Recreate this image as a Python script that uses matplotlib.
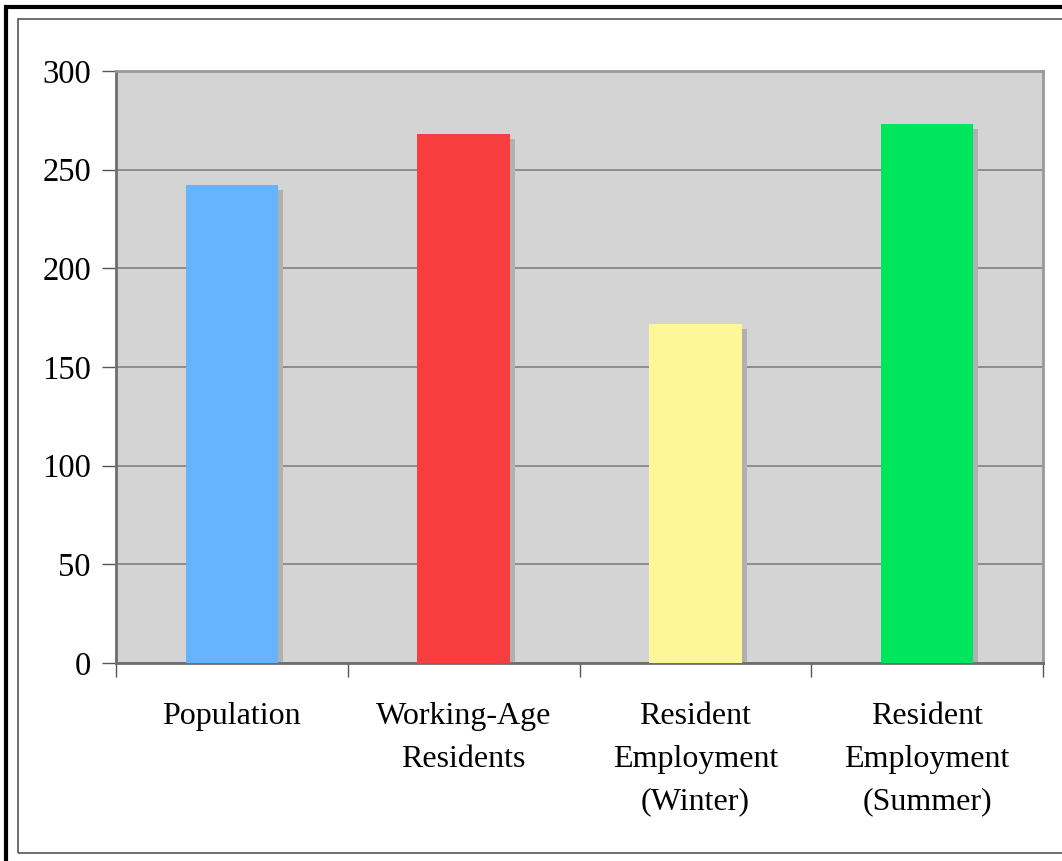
import numpy as np
import matplotlib.pyplot as plt
from matplotlib.patches import Rectangle

# Resident counts by category
categories = ['Population', 'Working-Age\nResidents', 'Resident\nEmployment\n(Winter)', 'Resident\nEmployment\n(Summer)']
values = [242, 268, 172, 273]
bar_colors = ['#66b3ff', '#f73d3d', '#fff599', '#00e65c']

W, H = 1062, 861
plt.rcParams['font.family'] = ['Liberation Serif', 'DejaVu Serif']

fig = plt.figure(figsize=(W / 100, H / 100), dpi=100)

# frame lines around the chart
fig.add_artist(Rectangle((5.5 / W, 1 - 1100 / H), 1100 / W, 1093.5 / H, transform=fig.transFigure,
                         fill=False, edgecolor='black', linewidth=3))
fig.add_artist(Rectangle((17.5 / W, 1 - 853 / H), 1100 / W, 834 / H, transform=fig.transFigure,
                         fill=False, edgecolor='#555555', linewidth=1.2))

ax = fig.add_axes([116 / W, 1 - 663 / H, (1043 - 116) / W, (663 - 71) / H])
ax.set_facecolor('#d4d4d4')

x = np.arange(len(categories))
bar_w = 0.4
ax.set_xlim(-0.5, len(categories) - 0.5)
ax.set_ylim(0, 300)

# drop shadows, shifted a few pixels right and down
to_data = ax.transData.inverted()
p0 = to_data.transform((0, 0))
p1 = to_data.transform((5, -5))
dx, dy = p1[0] - p0[0], p1[1] - p0[1]
ax.bar(x + dx, np.array(values) + dy, width=bar_w, color='#b0b0b0', zorder=2)
ax.bar(x, values, width=bar_w, color=bar_colors, zorder=3)

ax.set_yticks(np.arange(0, 301, 50))
ax.yaxis.grid(True, color='#808080', linewidth=1.2, zorder=1)
ax.set_axisbelow(True)

ax.set_xticks(x)
ax.set_xticklabels(categories, fontsize=23, linespacing=1.62, va='top')
ax.set_xticks(np.arange(-0.5, len(categories)), minor=True)
ax.tick_params(axis='x', which='major', length=0, pad=28)
ax.tick_params(axis='x', which='minor', length=10, width=1, color='#555555')
ax.tick_params(axis='y', length=10, width=1, color='#555555', labelsize=23.5, pad=8)

for side in ['left', 'bottom']:
    ax.spines[side].set_color('#6e6e6e')
    ax.spines[side].set_linewidth(2)
for side in ['top', 'right']:
    ax.spines[side].set_color('#999999')
    ax.spines[side].set_linewidth(2)

fig.savefig('out.png', dpi=100, facecolor='white')
